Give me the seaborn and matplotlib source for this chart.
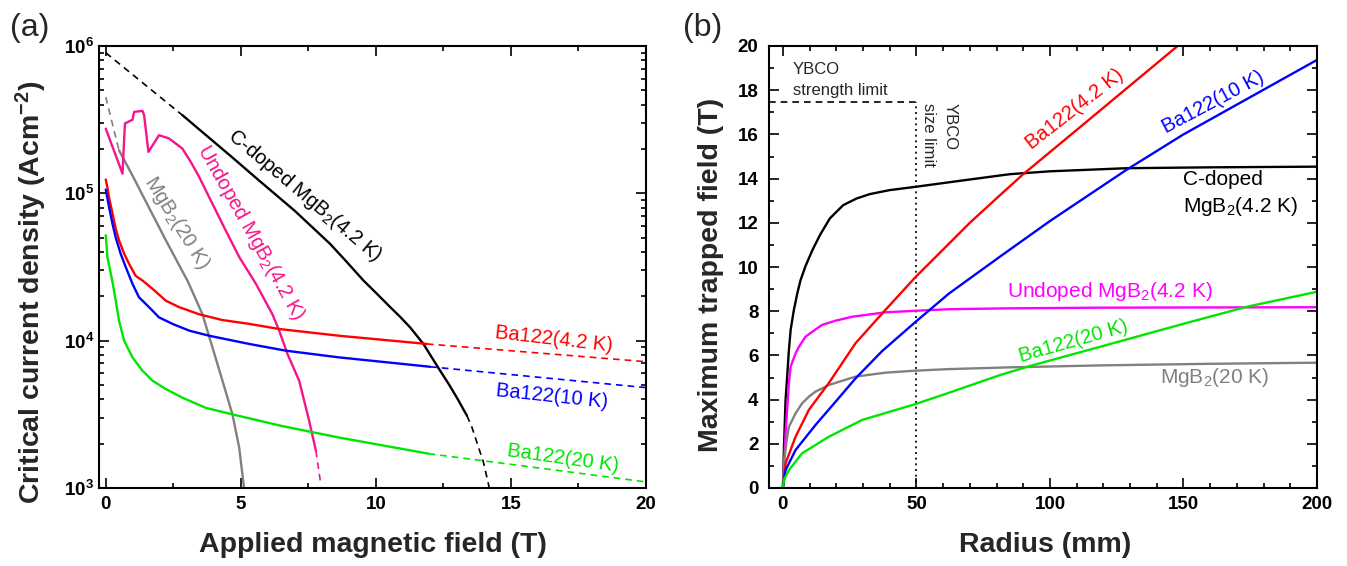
import numpy as np
import matplotlib
matplotlib.use('Agg')
import matplotlib.pyplot as plt
import seaborn as sns
from matplotlib.ticker import MultipleLocator, AutoMinorLocator, LogLocator, NullFormatter

sns.set_style('ticks')
plt.rcParams['font.family'] = ['Liberation Sans', 'DejaVu Sans']
plt.rcParams['mathtext.fontset'] = 'custom'
plt.rcParams['mathtext.rm'] = 'Liberation Sans'
plt.rcParams['mathtext.it'] = 'Liberation Sans:italic'
plt.rcParams['mathtext.bf'] = 'Liberation Sans:bold'

# ---------------- (a) Jc vs applied field ----------------
cdoped_dash1_b = [0, 2.84]
cdoped_dash1_jc = [9.0e5, 3.39e5]
cdoped_b = [2.84, 4.69, 5.68, 7.0, 8.3, 8.93, 9.54, 10.04, 10.53, 10.9, 11.27, 11.76, 12.07,
            12.38, 12.69, 13.0, 13.37]
cdoped_jc = [3.39e5, 1.75e5, 1.22e5, 7.6e4, 4.55e4, 3.41e4, 2.56e4, 2.08e4, 1.69e4, 1.45e4,
             1.23e4, 9.5e3, 7.7e3, 6.25e3, 5.1e3, 4.1e3, 3.1e3]
cdoped_dash2_b = [13.37, 13.56, 13.98, 14.2]
cdoped_dash2_jc = [3.1e3, 2.57e3, 1.5e3, 1.0e3]

undoped_b = [0, 0.62, 0.71, 0.99, 1.05, 1.36, 1.42, 1.58, 1.97, 2.34, 2.84, 3.15, 3.46,
             3.83, 4.44, 4.94, 5.56, 6.17, 6.42, 6.73, 7.16, 7.53, 7.78]
undoped_jc = [2.75e5, 1.36e5, 2.98e5, 3.16e5, 3.57e5, 3.63e5, 3.39e5, 1.91e5, 2.48e5, 2.36e5,
              2.01e5, 1.63e5, 1.29e5, 9.4e4, 5.6e4, 3.7e4, 2.43e4, 1.51e4, 1.17e4, 8.1e3,
              5.35e3, 2.86e3, 1.79e3]
undoped_dash_b = [7.78, 7.96]
undoped_dash_jc = [1.79e3, 1.06e3]

mgb2_dash_b = [0, 0.49]
mgb2_dash_jc = [4.5e5, 1.96e5]
mgb2_b = [0.49, 0.99, 1.6, 2.21, 3.05, 3.58, 3.95, 4.32, 4.69, 4.94, 5.12]
mgb2_jc = [1.96e5, 1.32e5, 8.0e4, 4.86e4, 2.5e4, 1.51e4, 9.0e3, 5.35e3, 3.16e3, 1.88e3, 1.0e3]

ba42_b = [0, 0.06, 0.12, 0.25, 0.37, 0.49, 0.68, 0.86, 1.11, 1.36, 1.73, 2.22, 2.71, 3.46,
          4.32, 5.31, 6.42, 8.64, 11.89]
ba42_jc = [1.24e5, 1.10e5, 9.4e4, 7.3e4, 5.75e4, 4.8e4, 3.9e4, 3.33e4, 2.75e4, 2.56e4, 2.25e4,
           1.87e4, 1.69e4, 1.51e4, 1.38e4, 1.30e4, 1.20e4, 1.08e4, 9.5e3]
ba42_dash_b = [11.89, 20]
ba42_dash_jc = [9.5e3, 7.2e3]

ba10_b = [0, 0.12, 0.25, 0.37, 0.55, 0.74, 0.99, 1.23, 1.6, 1.97, 2.47, 3.09, 3.83, 5.31,
          6.67, 8.64, 12.01]
ba10_jc = [1.06e5, 8.1e4, 6.2e4, 5.0e4, 3.9e4, 3.16e4, 2.43e4, 1.97e4, 1.69e4, 1.44e4, 1.30e4,
           1.17e4, 1.08e4, 9.5e3, 8.55e3, 7.7e3, 6.65e3]
ba10_dash_b = [12.01, 20]
ba10_dash_jc = [6.65e3, 4.8e3]

ba20_b = [0, 0.06, 0.25, 0.37, 0.49, 0.68, 0.99, 1.36, 1.73, 2.22, 2.84, 3.7, 4.69, 6.54,
          8.64, 11.95]
ba20_jc = [5.2e4, 3.7e4, 2.5e4, 1.87e4, 1.37e4, 1.0e4, 7.7e3, 6.25e3, 5.35e3, 4.7e3, 4.1e3,
           3.5e3, 3.16e3, 2.63e3, 2.2e3, 1.71e3]
ba20_dash_b = [11.95, 20]
ba20_dash_jc = [1.71e3, 1.1e3]

field_ticks = [0, 5, 10, 15, 20]
jc_ticks = [1e3, 1e4, 1e5, 1e6]
jc_tick_labels = [r'$\mathbf{10^{3}}$', r'$\mathbf{10^{4}}$', r'$\mathbf{10^{5}}$', r'$\mathbf{10^{6}}$']

# ---------------- (b) trapped field vs radius ----------------
cdoped_r = [0, 0.37, 1.0, 1.6, 2.25, 2.9, 4.1, 5.4, 6.6, 8.5, 11, 13.9, 17.6, 22.6, 27.6,
            32.6, 40, 49.8, 66.3, 85, 100, 128.7, 160, 200]
cdoped_t = [0, 1.72, 3.98, 5.04, 6.24, 7.15, 8.05, 8.81, 9.4, 10.05, 10.75, 11.45, 12.2, 12.8,
            13.1, 13.3, 13.48, 13.63, 13.9, 14.2, 14.33, 14.47, 14.51, 14.54]

undoped_r = [0, 1.0, 2.25, 2.9, 4.75, 6.0, 8.5, 11, 14.7, 19.7, 26, 38.5, 49.7, 62.2, 85, 120, 200]
undoped_t = [0, 2.47, 4.74, 5.49, 6.09, 6.39, 6.85, 7.07, 7.38, 7.57, 7.75, 7.95, 8.02, 8.09,
             8.13, 8.16, 8.18]

mgb2_r = [0, 0.37, 1.6, 2.25, 4.75, 7.2, 9.7, 12.2, 17.2, 27.2, 38.5, 49.7, 62.2, 85, 120, 160, 200]
mgb2_t = [0, 1.12, 2.32, 2.77, 3.38, 3.83, 4.13, 4.36, 4.66, 5.04, 5.22, 5.31, 5.38, 5.46,
          5.55, 5.62, 5.67]

ba42_r = [0, 1.0, 4.75, 9.7, 17.2, 27.2, 37.2, 49.7, 60.9, 70, 81.3, 90, 110, 147.5]
ba42_t = [0, 1.12, 2.32, 3.53, 4.75, 6.55, 7.9, 9.55, 10.9, 12.0, 13.25, 14.2, 16.2, 19.97]

ba10_r = [0, 1.0, 4.75, 12.2, 19.7, 27.2, 37.2, 49.7, 62.2, 81.3, 100, 128.7, 150, 200]
ba10_t = [0, 0.81, 1.72, 2.85, 3.9, 4.96, 6.2, 7.52, 8.8, 10.47, 12.08, 14.4, 16.0, 19.37]

ba20_r = [0, 0.37, 2.25, 7.2, 17.2, 29.7, 49.7, 62.2, 81.3, 92.5, 120, 150, 173.7, 200]
ba20_t = [0, 0.36, 0.81, 1.57, 2.32, 3.08, 3.8, 4.31, 5.11, 5.52, 6.43, 7.43, 8.2, 8.88]

ybco_strength_limit = 17.45
ybco_size_limit = 50
radius_ticks = [0, 50, 100, 150, 200]
field_b_ticks = list(range(0, 21, 2))

PINK = '#f5148c'
GREEN = '#00e600'
GRAY = '#808080'


def line(ax, x, y, color, dashed=False):
    if dashed:
        sns.lineplot(x=x, y=y, ax=ax, color=color, linewidth=1.2, linestyle=(0, (4, 3)),
                     estimator=None, sort=False)
    else:
        sns.lineplot(x=x, y=y, ax=ax, color=color, linewidth=1.7, estimator=None, sort=False)


def style_axes(ax):
    for s in ax.spines.values():
        s.set_linewidth(1.5)
        s.set_color('black')
    ax.tick_params(which='both', direction='in', top=True, right=True, width=1.2, colors='black')
    ax.tick_params(which='major', length=7, labelsize=13.5)
    ax.tick_params(which='minor', length=3.5)


fig = plt.figure(figsize=(13.47, 5.66), dpi=100)
ax_a = fig.add_axes([99 / 1347, 78 / 566, 547 / 1347, 442 / 566])
ax_b = fig.add_axes([769 / 1347, 78 / 566, 548 / 1347, 442 / 566])

# ---- panel (a)
line(ax_a, cdoped_dash1_b, cdoped_dash1_jc, 'black', dashed=True)
line(ax_a, cdoped_b, cdoped_jc, 'black')
line(ax_a, cdoped_dash2_b, cdoped_dash2_jc, 'black', dashed=True)
line(ax_a, mgb2_dash_b, mgb2_dash_jc, GRAY, dashed=True)
line(ax_a, mgb2_b, mgb2_jc, GRAY)
line(ax_a, undoped_b, undoped_jc, PINK)
line(ax_a, undoped_dash_b, undoped_dash_jc, PINK, dashed=True)
line(ax_a, ba42_b, ba42_jc, 'red')
line(ax_a, ba42_dash_b, ba42_dash_jc, 'red', dashed=True)
line(ax_a, ba10_b, ba10_jc, 'blue')
line(ax_a, ba10_dash_b, ba10_dash_jc, 'blue', dashed=True)
line(ax_a, ba20_b, ba20_jc, GREEN)
line(ax_a, ba20_dash_b, ba20_dash_jc, GREEN, dashed=True)

ax_a.set_yscale('log')
ax_a.set_xlim(-0.25, 20)
ax_a.set_ylim(1e3, 1e6)
ax_a.set_xticks(field_ticks, labels=[str(t) for t in field_ticks], fontweight='bold')
ax_a.xaxis.set_minor_locator(AutoMinorLocator(2))
ax_a.set_yticks(jc_ticks, labels=jc_tick_labels)
ax_a.yaxis.set_minor_locator(LogLocator(base=10, subs=np.arange(2, 10)))
ax_a.yaxis.set_minor_formatter(NullFormatter())
style_axes(ax_a)
ax_a.tick_params(axis='x', pad=6)
ax_a.tick_params(axis='y', pad=3.5)
ax_a.set_xlabel('Applied magnetic field (T)', fontsize=20.5, fontweight='bold')
ax_a.set_ylabel(r'Critical current density (Acm$^{\mathbf{-2}}$)', fontsize=20.5, fontweight='bold')
ax_a.xaxis.set_label_coords(0.5, -0.1)
ax_a.yaxis.set_label_coords(-0.092, 0.443)

txt = dict(fontsize=14.5, ha='center', va='center', rotation_mode='anchor')
ax_a.text(7.35, 9.7e4, 'C-doped MgB$_2$(4.2 K)', rotation=-40, color='black', **txt)
ax_a.text(5.38, 5.4e4, 'Undoped MgB$_2$(4.2 K)', rotation=-60.5, color=PINK, **txt)
ax_a.text(2.64, 6.3e4, 'MgB$_2$(20 K)', rotation=-58, color=GRAY, **txt)
ax_a.text(16.57, 1.03e4, 'Ba122(4.2 K)', rotation=-6.5, color='red', **txt)
ax_a.text(16.53, 4.2e3, 'Ba122(10 K)', rotation=-6, color='blue', **txt)
ax_a.text(16.94, 1.6e3, 'Ba122(20 K)', rotation=-8, color=GREEN, **txt)

# ---- panel (b)
line(ax_b, [-5.2, ybco_size_limit], [ybco_strength_limit, ybco_strength_limit], 'black', dashed=True)
sns.lineplot(x=[ybco_size_limit, ybco_size_limit], y=[0, ybco_strength_limit], ax=ax_b,
             color='black', linewidth=1.2, linestyle=(0, (1.2, 2.2)), estimator=None, sort=False)
line(ax_b, cdoped_r, cdoped_t, 'black')
line(ax_b, undoped_r, undoped_t, '#ff00ff')
line(ax_b, mgb2_r, mgb2_t, GRAY)
line(ax_b, ba42_r, ba42_t, 'red')
line(ax_b, ba10_r, ba10_t, 'blue')
line(ax_b, ba20_r, ba20_t, GREEN)

ax_b.set_xlim(-5.2, 200)
ax_b.set_ylim(0, 20)
ax_b.set_xticks(radius_ticks, labels=[str(t) for t in radius_ticks], fontweight='bold')
ax_b.set_yticks(field_b_ticks, labels=[str(t) for t in field_b_ticks], fontweight='bold')
ax_b.xaxis.set_minor_locator(MultipleLocator(10))
ax_b.yaxis.set_minor_locator(MultipleLocator(1))
style_axes(ax_b)
ax_b.tick_params(axis='x', pad=6)
ax_b.tick_params(axis='y', pad=7.5)
ax_b.set_xlabel('Radius (mm)', fontsize=20.5, fontweight='bold')
ax_b.set_ylabel('Maximum trapped field (T)', fontsize=20.5, fontweight='bold')
ax_b.xaxis.set_label_coords(0.504, -0.1)
ax_b.yaxis.set_label_coords(-0.083, 0.482)

ax_b.text(3.75, 18.73, 'YBCO', fontsize=12, ha='left', va='baseline')
ax_b.text(3.75, 17.8, 'strength limit', fontsize=12, ha='left', va='baseline')
ax_b.text(62.5, 17.4, 'YBCO', fontsize=12, rotation=-90, ha='center', va='top')
ax_b.text(54.7, 17.4, 'size limit', fontsize=12, rotation=-90, ha='center', va='top')

ax_b.text(109.4, 17.15, 'Ba122(4.2 K)', rotation=38, color='red', **txt)
ax_b.text(161, 17.44, 'Ba122(10 K)', rotation=28, color='blue', **txt)
ax_b.text(149.8, 13.71, 'C-doped', fontsize=15, ha='left', va='baseline', color='black')
ax_b.text(149.8, 12.5, 'MgB$_2$(4.2 K)', fontsize=15, ha='left', va='baseline', color='black')
ax_b.text(84, 8.66, 'Undoped MgB$_2$(4.2 K)', fontsize=15, ha='left', va='baseline', color='#ff00ff')
ax_b.text(108.7, 6.65, 'Ba122(20 K)', rotation=16, color=GREEN, **txt)
ax_b.text(141.2, 4.74, 'MgB$_2$(20 K)', fontsize=15, ha='left', va='baseline', color=GRAY)

fig.text(30 / 1347, 1 - 28 / 566, '(a)', fontsize=23, ha='center', va='center')
fig.text(703 / 1347, 1 - 28 / 566, '(b)', fontsize=23, ha='center', va='center')

fig.savefig('out.png', dpi=100)
